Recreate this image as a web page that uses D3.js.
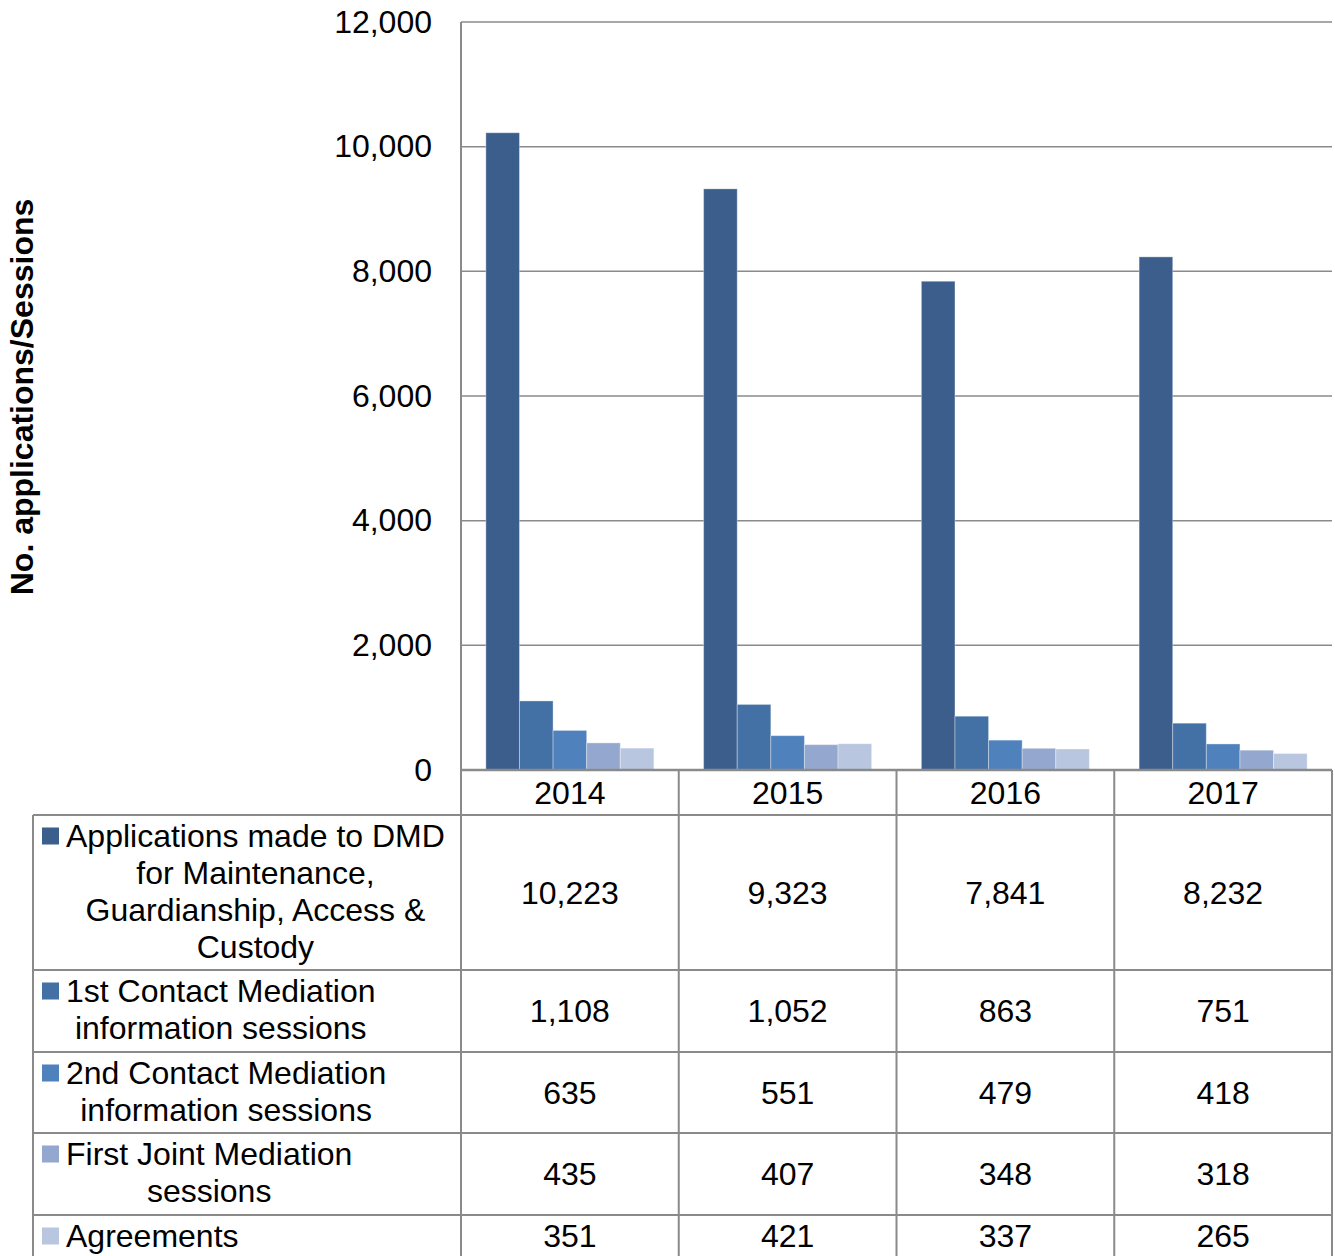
<!DOCTYPE html>
<html>
<head>
<meta charset="utf-8">
<script src="https://cdn.jsdelivr.net/npm/d3@7"></script>
<style>
  html, body { margin: 0; padding: 0; background: #fff; }
  svg { display: block; font-family: "Liberation Sans", Arial, sans-serif; }
</style>
</head>
<body>
<svg id="chart" width="1335" height="1256"></svg>
<script>
// Years on the category axis
const years = ["2014", "2015", "2016", "2017"];

// Series names (legend lines in the data table)
const seriesNames = [
  ["Applications made to DMD", "for Maintenance,", "Guardianship, Access &", "Custody"],
  ["1st Contact Mediation", "information sessions"],
  ["2nd Contact Mediation", "information sessions"],
  ["First Joint Mediation", "sessions"],
  ["Agreements"]
];

// Values per series, one per year
const applications = [10223, 9323, 7841, 8232];
const firstContact = [1108, 1052, 863, 751];
const secondContact = [635, 551, 479, 418];
const firstJoint = [435, 407, 348, 318];
const agreements = [351, 421, 337, 265];
const seriesValues = [applications, firstContact, secondContact, firstJoint, agreements];

// Axis ticks
const yTicks = [0, 2000, 4000, 6000, 8000, 10000, 12000];

const colors = ["#3B5E8C", "#4371A6", "#4F81BD", "#94A8CF", "#B9C6E0"];

const svg = d3.select("#chart");
const fmt = d3.format(",");

const plot = { left: 461, right: 1332, top: 22, bottom: 770 };
const tableLeft = 33;
const rowEdges = [770, 815, 970, 1052, 1133, 1215, 1260];
const gridColor = "#8a8a8a";
const fontSize = 32;

const x0 = d3.scaleBand().domain(years).range([plot.left, plot.right]).padding(0);
const x1 = d3.scaleBand().domain(d3.range(seriesValues.length))
  .range([0, x0.bandwidth()]).paddingInner(0).paddingOuter(0.74);
const y = d3.scaleLinear().domain([0, 12000]).range([plot.bottom, plot.top]);

// Gridlines
svg.append("g").selectAll("line").data(yTicks.filter(t => t > 0)).join("line")
  .attr("x1", plot.left).attr("x2", plot.right)
  .attr("y1", d => y(d)).attr("y2", d => y(d))
  .attr("stroke", gridColor).attr("stroke-width", 1.5);

// Y axis labels (no tick marks, no domain path)
const yAxis = d3.axisLeft(y).tickValues(yTicks).tickFormat(fmt).tickSize(0).tickPadding(29);
const yg = svg.append("g").attr("transform", `translate(${plot.left},0)`).call(yAxis);
yg.select(".domain").remove();
yg.selectAll("text").attr("font-size", fontSize).attr("fill", "#000")
  .attr("font-family", "Liberation Sans, Arial, sans-serif");

// Left axis line
svg.append("line").attr("x1", plot.left).attr("x2", plot.left)
  .attr("y1", plot.top).attr("y2", plot.bottom)
  .attr("stroke", gridColor).attr("stroke-width", 2);

// Bars
const groups = svg.append("g").selectAll("g").data(years).join("g")
  .attr("transform", d => `translate(${x0(d)},0)`);
groups.selectAll("rect")
  .data((yr, i) => seriesValues.map((vals, s) => ({ s, v: vals[i] })))
  .join("rect")
  .attr("x", d => x1(d.s))
  .attr("width", x1.bandwidth())
  .attr("y", d => y(d.v))
  .attr("height", d => y(0) - y(d.v))
  .attr("fill", d => colors[d.s])
  .attr("stroke", "rgba(255,255,255,0.35)")
  .attr("stroke-width", 1);

// Y axis title
svg.append("text")
  .attr("transform", "translate(33,397) rotate(-90)")
  .attr("text-anchor", "middle")
  .attr("font-size", fontSize).attr("font-weight", "bold")
  .text("No. applications/Sessions");

// Data table
const table = svg.append("g");
const colEdges = years.map(yv => x0(yv)).concat([plot.right]);

// Horizontal rules
rowEdges.forEach((ry, i) => {
  if (i === 0) {
    table.append("line").attr("x1", plot.left).attr("x2", plot.right)
      .attr("y1", ry).attr("y2", ry).attr("stroke", gridColor).attr("stroke-width", 2.5);
  } else {
    table.append("line").attr("x1", tableLeft).attr("x2", plot.right)
      .attr("y1", ry).attr("y2", ry).attr("stroke", gridColor).attr("stroke-width", 2);
  }
});
// Vertical rules
colEdges.forEach(cx => {
  table.append("line").attr("x1", cx).attr("x2", cx)
    .attr("y1", rowEdges[0]).attr("y2", 1256)
    .attr("stroke", gridColor).attr("stroke-width", 2);
});
table.append("line").attr("x1", tableLeft).attr("x2", tableLeft)
  .attr("y1", rowEdges[1]).attr("y2", 1256)
  .attr("stroke", gridColor).attr("stroke-width", 2);

// Year header
table.selectAll("text.year").data(years).join("text")
  .attr("class", "year")
  .attr("x", d => x0(d) + x0.bandwidth() / 2)
  .attr("y", (rowEdges[0] + rowEdges[1]) / 2)
  .attr("dy", "0.35em")
  .attr("text-anchor", "middle")
  .attr("font-size", fontSize)
  .text(d => d);

// Legend cells and values
const lineGap = 37;
seriesNames.forEach((lines, s) => {
  const top = rowEdges[s + 1];
  const bottom = rowEdges[s + 2];
  const firstY = top + 21;
  // Marker
  table.append("rect")
    .attr("x", 42).attr("y", firstY - 8.5).attr("width", 17).attr("height", 17)
    .attr("fill", colors[s]);
  // First line, then the remaining lines centred under it
  const first = table.append("text")
    .attr("x", 66).attr("y", firstY).attr("dy", "0.35em")
    .attr("font-size", fontSize).text(lines[0]);
  const w = first.node().getComputedTextLength();
  const cx = 66 + w / 2;
  lines.slice(1).forEach((ln, k) => {
    table.append("text")
      .attr("x", cx).attr("y", firstY + lineGap * (k + 1)).attr("dy", "0.35em")
      .attr("text-anchor", "middle")
      .attr("font-size", fontSize).text(ln);
  });
  // Values
  const midY = (s === seriesNames.length - 1) ? firstY : (top + bottom) / 2;
  years.forEach((yr, i) => {
    table.append("text")
      .attr("x", x0(yr) + x0.bandwidth() / 2)
      .attr("y", midY).attr("dy", "0.35em")
      .attr("text-anchor", "middle")
      .attr("font-size", fontSize)
      .text(fmt(seriesValues[s][i]));
  });
});
</script>
</body>
</html>
